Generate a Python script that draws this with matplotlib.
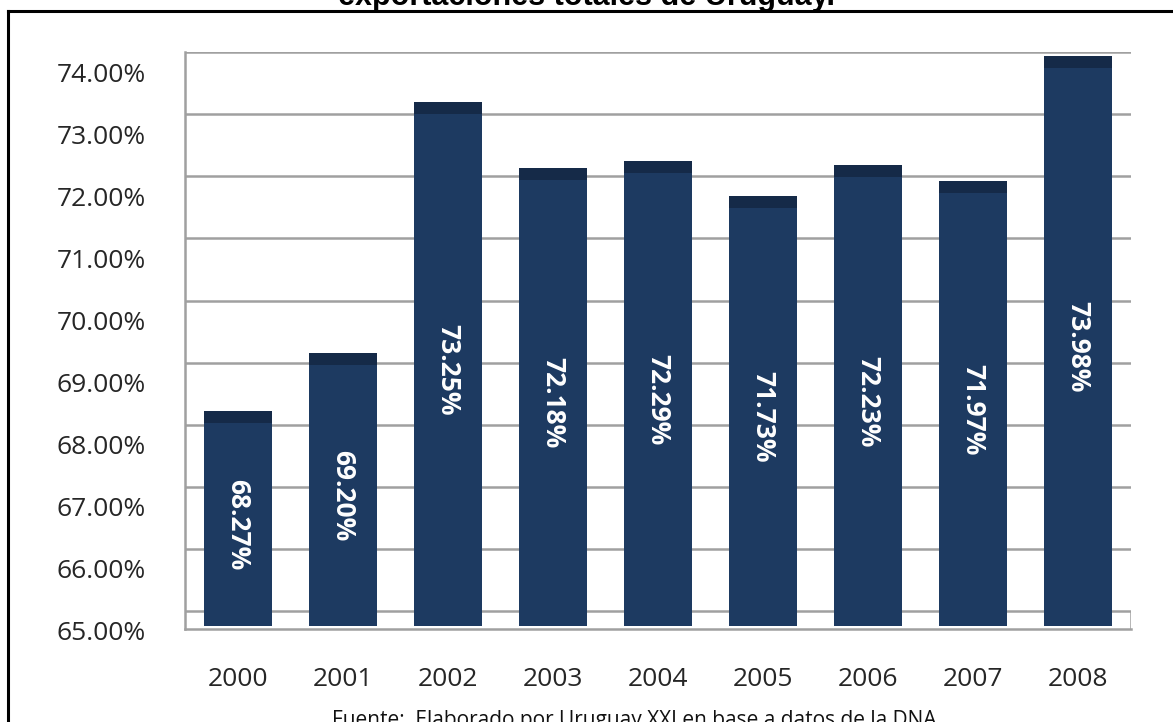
import matplotlib
matplotlib.use("Agg")
import matplotlib.pyplot as plt
from matplotlib.transforms import ScaledTranslation
from matplotlib.lines import Line2D

years = ["2000", "2001", "2002", "2003", "2004", "2005", "2006", "2007", "2008"]
shares = [68.27, 69.20, 73.25, 72.18, 72.29, 71.73, 72.23, 71.97, 73.98]
y_ticks = [65, 66, 67, 68, 69, 70, 71, 72, 73, 74]
titulo = "exportaciones totales de Uruguay."
fuente = "Fuente:  Elaborado por Uruguay XXI en base a datos de la DNA"

W, H = 1173, 722
plt.rcParams['font.family'] = ['Open Sans', 'DejaVu Sans']

fig = plt.figure(figsize=(W / 100, H / 100), dpi=100)

# ejes en pixeles (3D de Excel simulado)
left, right, top, bottom = 185, 1131, 52, 629
ax = fig.add_axes([left / W, 1 - bottom / H, (right - left) / W, (bottom - top) / H])

ppp = 62.1          # pixeles por punto porcentual
base_px = 626       # fondo de las barras (65%)
ymin = 65 - (bottom - base_px) / ppp
ymax = 65 + (base_px - top) / ppp
depth = (base_px - 611) / ppp     # desplazamiento de la pared del fondo
cap = 12 / ppp                    # tapa de las barras

body = '#1d3a61'
dark = '#152a48'
grid = '#a0a0a0'

x = list(range(len(years)))
ax.set_xlim(-0.505, 8.505)
ax.set_ylim(ymin, ymax)

# lineas de la pared del fondo
ax.hlines([v + depth for v in y_ticks], -0.505, 8.505, colors=grid, lw=1.8, zorder=1)
ax.vlines(8.505, ymin, 65 + depth, colors=grid, lw=1.8, zorder=1)

heights = [s - 65 for s in shares]
ax.bar(x, heights, bottom=65, width=0.648, color=body, linewidth=0, zorder=3)
ax.bar(x, [cap] * len(x), bottom=shares, width=0.648, color=dark, linewidth=0,
       zorder=3, clip_on=False)

for xi, s in zip(x, shares):
    ax.text(xi, (65 + s) / 2, f"{s:.2f}%", rotation=270, ha='center', va='center',
            color='white', fontsize=19, fontweight='bold', zorder=4)

for sp in ['top', 'right']:
    ax.spines[sp].set_visible(False)
for sp in ['left', 'bottom']:
    ax.spines[sp].set_color(grid)
    ax.spines[sp].set_linewidth(1.8)

ax.set_yticks(y_ticks)
ax.set_yticklabels([f"{v:.2f}%" for v in y_ticks])
ax.set_xticks(x)
ax.set_xticklabels(years)
ax.tick_params(axis='y', length=0, pad=28, labelsize=19, labelcolor='#262626')
ax.tick_params(axis='x', length=0, pad=27, labelsize=19, labelcolor='#262626')
off = ScaledTranslation(0, -5 / 100, fig.dpi_scale_trans)
for lab in ax.get_yticklabels():
    lab.set_transform(lab.get_transform() + off)

# titulo cortado arriba y nota al pie
fig.text(586 / W, 1 - 5 / H, titulo, ha='center', va='baseline', fontsize=22,
         fontweight='bold', family='Liberation Sans')
fig.text(634 / W, 1 - 726 / H, fuente, ha='center', va='baseline', fontsize=15,
         color='#111111')

# marco negro
fig.add_artist(Line2D([8 / W, 8 / W], [0, 1 - 11 / H], color='black', lw=2.2,
                      transform=fig.transFigure))
fig.add_artist(Line2D([8 / W, 1], [1 - 11 / H, 1 - 11 / H], color='black', lw=2.2,
                      transform=fig.transFigure))

fig.savefig("out.png", dpi=100)
